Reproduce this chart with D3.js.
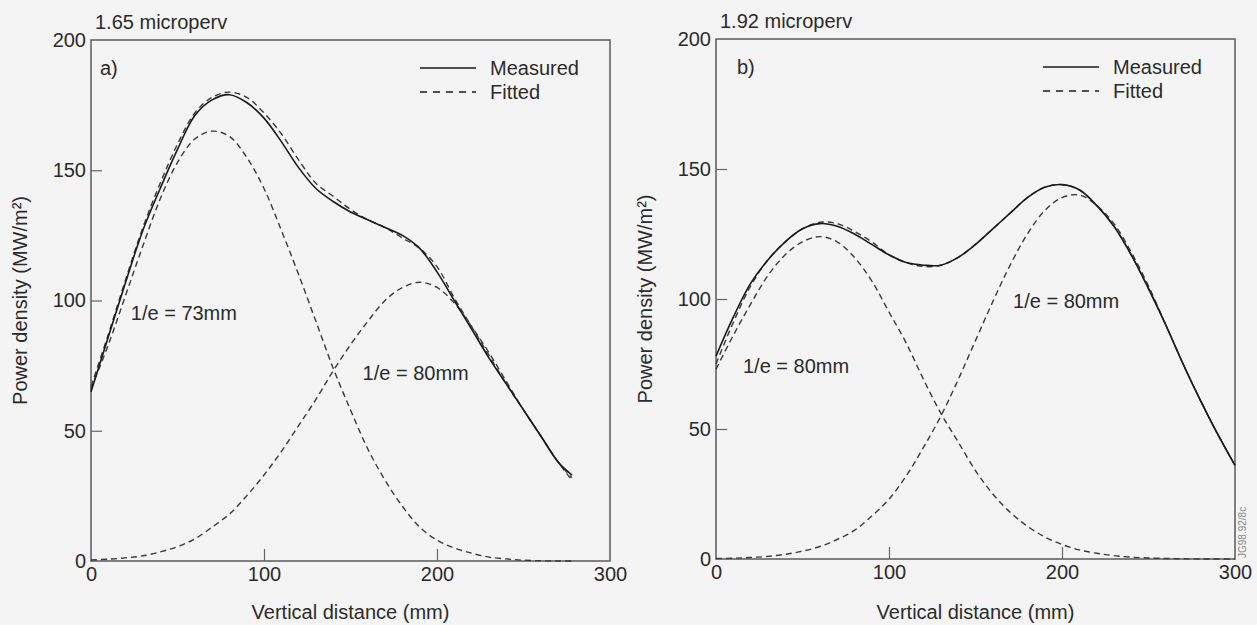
<!DOCTYPE html>
<html>
<head>
<meta charset="utf-8">
<script src="https://cdn.jsdelivr.net/npm/d3@7"></script>
<style>
    body { margin: 0; background: #f4f4f4; }
    #chart { width: 1257px; height: 625px; }
    text { font-family: "Liberation Sans", Arial, sans-serif; fill: #2b2b2b; }
</style>
</head>
<body>
<div id="chart"></div>
<script>

// ---- data ----
let xTicks = [0, 100, 200, 300];
let yTicks = [0, 50, 100, 150, 200];

// panel a) 1.65 microperv
let distA = [0, 10, 20, 30, 40, 50, 60, 70, 80, 90, 100, 110, 120, 130, 140, 150, 160, 170, 180, 190, 200, 210, 220, 230, 240, 250, 260, 270, 278];
let measuredA = [65, 86, 107, 127, 143, 158, 171, 177, 179, 176, 170, 161, 151, 143, 138, 134, 131, 128, 125, 120, 111, 100, 89, 78, 68, 58, 48, 38, 33];
let fittedA = [67, 87, 108, 128, 145, 160, 172, 178, 180, 178, 172, 164, 154, 145, 140, 135, 131, 128, 124, 120, 113, 101, 90, 79, 68, 58, 48, 38, 32];
let peak1A = [66, 83, 102, 121, 139, 153, 162, 165, 163, 155, 143, 127, 110, 92, 74, 58, 43, 31, 21, 13, 8, 5, 3, 1.5, 0.8, 0.3, 0.1, 0, 0];
let peak2A = [0.4, 0.7, 1.2, 2, 3.5, 5.5, 8.5, 13, 18, 25, 33, 42, 52, 62, 73, 83, 92, 100, 105, 107, 105, 99, 90, 80, 69, 58, 48, 38, 31];

// panel b) 1.92 microperv
let distB = [0, 10, 20, 30, 40, 50, 60, 70, 80, 90, 100, 110, 120, 130, 140, 150, 160, 170, 180, 190, 200, 210, 220, 230, 240, 250, 260, 270, 280, 290, 300];
let measuredB = [78, 93, 106, 115, 122, 127, 129, 128, 125, 121, 117, 114, 113, 113, 116, 121, 127, 133, 139, 143, 144, 142, 136, 128, 117, 104, 90, 75, 61, 48, 36];
let fittedB = [75, 91, 105, 115, 122, 127, 129.5, 129, 126, 122, 117, 114, 112.5, 113, 116, 121, 127, 133, 139, 143, 144, 142, 136, 128, 117, 104, 90, 75, 61, 48, 36];
let peak1B = [73, 86, 98, 109, 117, 122, 124, 122, 116, 107, 95, 83, 69, 56, 45, 34, 25, 18, 12.6, 8.5, 5.6, 3.5, 2.2, 1.3, 0.7, 0.4, 0.2, 0.1, 0, 0, 0];
let peak2B = [0.2, 0.3, 0.6, 1, 1.8, 3, 4.8, 7.5, 11, 16.5, 23, 32, 43, 55, 69, 84, 99, 113, 125, 134, 139, 140, 136, 129, 118, 105, 90, 75, 61, 48, 36];

let legendNames = ['Measured', 'Fitted'];


class PowerVis {

    constructor(svg, cfg) {
        this.svg = svg;
        this.cfg = cfg;
        this.initVis();
    }

    initVis() {
        let vis = this;
        let c = vis.cfg;

        vis.x = d3.scaleLinear().domain([0, 300]).range([c.left, c.right]);
        vis.y = d3.scaleLinear().domain([0, 200]).range([c.bottom, c.top]);

        vis.g = vis.svg.append('g');

        // frame
        vis.g.append('rect')
            .attr('x', c.left)
            .attr('y', c.top)
            .attr('width', c.right - c.left)
            .attr('height', c.bottom - c.top)
            .attr('fill', 'none')
            .attr('stroke', '#5a5a5a')
            .attr('stroke-width', 1.5);

        // axes, ticks point inward
        let yAxis = vis.g.append('g')
            .attr('transform', 'translate(' + c.left + ',0)')
            .call(d3.axisLeft(vis.y).tickValues(yTicks).tickSizeInner(-11).tickSizeOuter(0).tickPadding(5));
        let xAxis = vis.g.append('g')
            .attr('transform', 'translate(0,' + c.bottom + ')')
            .call(d3.axisBottom(vis.x).tickValues(xTicks).tickSizeInner(-12).tickSizeOuter(0).tickPadding(6));

        [xAxis, yAxis].forEach(ax => {
            ax.select('.domain').remove();
            ax.selectAll('.tick line').attr('stroke', '#666').attr('stroke-width', 1.2);
            ax.selectAll('.tick text').style('font-size', '20px').attr('fill', '#2b2b2b');
        });
        yAxis.selectAll('.tick line').filter(d => d === 0 || d === 200).remove();
        xAxis.selectAll('.tick line').filter(d => d === 0 || d === 300).remove();

        // axis titles
        vis.g.append('text')
            .attr('x', (c.left + c.right) / 2)
            .attr('y', 619)
            .attr('text-anchor', 'middle')
            .style('font-size', '20px')
            .text('Vertical distance (mm)');
        vis.g.append('text')
            .attr('transform', 'translate(' + c.ytitleX + ',' + (c.top + c.bottom) / 2 + ') rotate(-90)')
            .attr('text-anchor', 'middle')
            .style('font-size', '20px')
            .text('Power density (MW/m²)');

        vis.g.append('text')
            .attr('x', c.left + 4)
            .attr('y', c.top - 11)
            .style('font-size', '20px')
            .text(c.title);
        vis.g.append('text')
            .attr('x', c.left + c.tagX)
            .attr('y', c.top + 35)
            .style('font-size', '20px')
            .text(c.tag);

        // curves
        let line = d3.line()
            .x(d => vis.x(d[0]))
            .y(d => vis.y(d[1]))
            .curve(d3.curveCatmullRom);

        let series = [
            {vals: c.peak1, dash: true},
            {vals: c.peak2, dash: true},
            {vals: c.fitted, dash: true},
            {vals: c.measured, dash: false}
        ];

        vis.g.selectAll('.curve')
            .data(series)
            .enter()
            .append('path')
            .attr('class', 'curve')
            .attr('d', s => line(c.dist.map((d, i) => [d, s.vals[i]])))
            .attr('fill', 'none')
            .attr('stroke', s => s.dash ? '#3a3a3a' : '#1a1a1a')
            .attr('stroke-width', s => s.dash ? 1.4 : 1.6)
            .attr('stroke-dasharray', s => s.dash ? '6,4' : null);

        // notes
        vis.g.selectAll('.note')
            .data(c.notes)
            .enter()
            .append('text')
            .attr('class', 'note')
            .attr('x', d => vis.x(d.x))
            .attr('y', d => vis.y(d.y))
            .style('font-size', '20px')
            .text(d => d.text);

        // LEGEND
        let lx = c.left + c.legendX;
        let legend = vis.g.selectAll('.legend')
            .data(legendNames)
            .enter()
            .append('g')
            .attr('class', 'legend')
            .attr('transform', (d, i) => 'translate(' + lx + ',' + (c.top + 28 + i * 24) + ')');
        legend.append('line')
            .attr('x1', 0)
            .attr('x2', 56)
            .attr('stroke', '#1a1a1a')
            .attr('stroke-width', 1.5)
            .attr('stroke-dasharray', (d, i) => i === 1 ? '7,6' : null);
        legend.append('text')
            .attr('x', 70)
            .attr('y', 7)
            .style('font-size', '20px')
            .text(d => d);
    }
}

let svg = d3.select('#chart').append('svg')
    .attr('width', 1257)
    .attr('height', 625);

new PowerVis(svg, {
    left: 91, right: 610, top: 40, bottom: 561, ytitleX: 27, tagX: 9, legendX: 329,
    title: '1.65 microperv', tag: 'a)',
    dist: distA, measured: measuredA, fitted: fittedA, peak1: peak1A, peak2: peak2A,
    notes: [{text: '1/e = 73mm', x: 23, y: 92.5}, {text: '1/e = 80mm', x: 157, y: 69.5}]
});

new PowerVis(svg, {
    left: 716, right: 1235, top: 39, bottom: 559, ytitleX: 652, tagX: 21, legendX: 327,
    title: '1.92 microperv', tag: 'b)',
    dist: distB, measured: measuredB, fitted: fittedB, peak1: peak1B, peak2: peak2B,
    notes: [{text: '1/e = 80mm', x: 15.6, y: 71.5}, {text: '1/e = 80mm', x: 171.7, y: 96.5}]
});

// figure code down the right edge
svg.append('text')
    .attr('transform', 'translate(1246,558) rotate(-90)')
    .style('font-size', '10px')
    .style('fill', '#888')
    .text('JG98.92/8c');

</script>
</body>
</html>
